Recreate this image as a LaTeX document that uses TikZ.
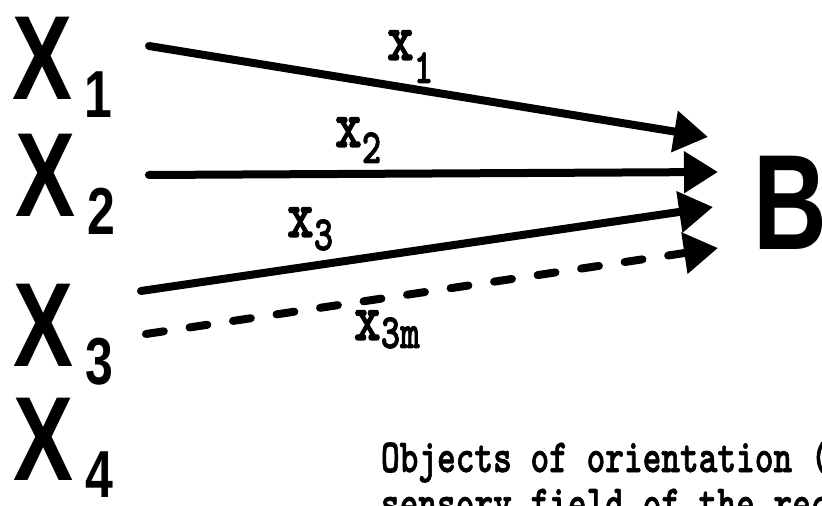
\documentclass[tikz,border=0pt]{standalone}
\usepackage{fontspec}
\newfontfamily\orientfont{Liberation Sans}
\newfontfamily\typefont{lmmonolt10-bold.otf}[FakeBold=1.6]
\usepackage{tikz}
\usetikzlibrary{arrows.meta, positioning}

% the scan is stretched upright, so every text is too
\newcommand{\tallbox}[1]{\scalebox{1}[1.33]{#1}}
\newcommand{\orientX}[1]{\tallbox{\orientfont\bfseries\fontsize{45}{45}\selectfont X\kern6pt\raisebox{-6.4pt}{\fontsize{25}{25}\selectfont #1}}}
\newcommand{\flowlab}[2]{\tallbox{\typefont\fontsize{25.5}{25.5}\selectfont x\raisebox{-#2}{\fontsize{18.5}{18.5}\selectfont #1}}}
\newcommand{\noteline}[1]{\tallbox{\typefont\fontsize{17.8}{17.8}\selectfont #1}}

\begin{document}
\begin{tikzpicture}[x=0.5pt, y=-0.5pt,
    every node/.style={anchor=base west, inner sep=0pt, outer sep=0pt},
    flow/.style={line width=4pt, line cap=round, -{Triangle[length=17pt, width=20pt]}},
    guess/.style={flow, dash pattern=on 9pt off 13pt}]
  \useasboundingbox (0,0) rectangle (822,506);
  \clip (0,0) rectangle (822,506);

  % objects of orientation
  \node (X1) at (12,100) {\orientX{1}};
  \node (X2) at (15,217) {\orientX{2}};
  \node (X3) at (13,367) {\orientX{3}};
  \node (X4) at (13,480) {\orientX{4}};

  % the receiver
  \node (B) at (753,250) {\tallbox{\orientfont\bfseries\fontsize{51}{51}\selectfont B}};

  % ends of the connectors
  \coordinate (s1) at (149,46);  \coordinate (t1) at (708,137);
  \coordinate (s2) at (149,175); \coordinate (t2) at (718,172);
  \coordinate (s3) at (141,291); \coordinate (t3) at (713,207);
  \coordinate (s4) at (146,334); \coordinate (t4) at (718,248);

  \draw[flow] (s1) -- (t1);
  \draw[flow] (s2) -- (t2);
  \draw[flow] (s3) -- (t3);
  \draw[guess] (s4) -- (t4);

  % labels on the connectors
  \node (lx1) at (387,60) {\flowlab{1}{8.6pt}};
  \node (lx2) at (335,147) {\flowlab{2}{6pt}};
  \node (lx3) at (287,237) {\flowlab{3}{4.9pt}};
  \node (lx3m) at (354,340) {\flowlab{3m}{3pt}};

  % caption, cut by the page
  \node (note1) at (381,472) {\noteline{Objects of orientation (X}};
  \node (note2) at (381,518) {\noteline{sensory field of the rec}};
\end{tikzpicture}
\end{document}
